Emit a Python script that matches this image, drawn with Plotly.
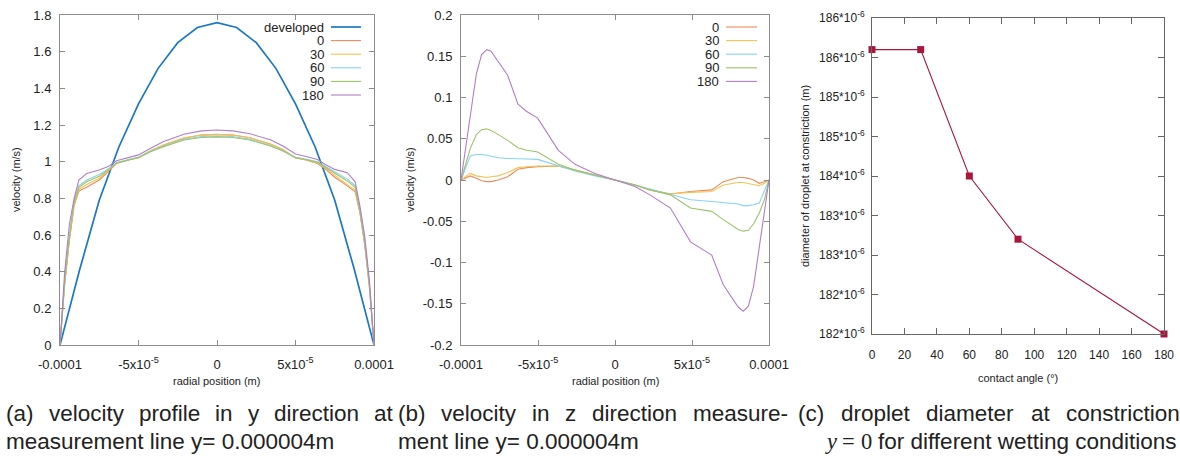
import plotly.graph_objects as go

W, H = 1180, 459

# ---------------- data ----------------
# panel (a): velocity in y direction, x in units of 1e-5 m
xa_dev = [-10, -8.75, -7.5, -6.25, -5, -3.75, -2.5, -1.25, 0, 1.25, 2.5, 3.75, 5, 6.25, 7.5, 8.75, 10]
va_dev = [0, 0.41, 0.79, 1.08, 1.315, 1.509, 1.649, 1.732, 1.758, 1.732, 1.649, 1.509, 1.315, 1.08, 0.79, 0.41, 0]

xa = [-10, -9.7, -9.4, -9.1, -8.8, -8.3, -7.5, -6.9, -6.4, -5.6, -5.0, -4.2, -3.4, -2.1, -1.0, 0,
      1.0, 2.1, 3.4, 4.2, 5.0, 5.6, 6.4, 6.9, 7.5, 8.3, 8.8, 9.1, 9.4, 9.7, 10]
va_0 = [0, 0.33, 0.57, 0.76, 0.84, 0.86, 0.90, 0.95, 0.99, 1.01, 1.022, 1.06, 1.09, 1.128, 1.145, 1.149,
        1.145, 1.13, 1.095, 1.065, 1.02, 1.01, 0.99, 0.96, 0.915, 0.868, 0.835, 0.72, 0.55, 0.32, 0]
va_30 = [0, 0.34, 0.58, 0.77, 0.85, 0.875, 0.91, 0.955, 0.992, 1.012, 1.024, 1.062, 1.092, 1.13, 1.145, 1.148,
         1.145, 1.13, 1.097, 1.067, 1.022, 1.012, 0.993, 0.965, 0.925, 0.875, 0.845, 0.73, 0.56, 0.33, 0]
va_60 = [0, 0.36, 0.60, 0.79, 0.87, 0.90, 0.93, 0.962, 0.995, 1.012, 1.024, 1.058, 1.085, 1.122, 1.137, 1.14,
         1.137, 1.122, 1.088, 1.06, 1.024, 1.015, 1.0, 0.975, 0.945, 0.905, 0.87, 0.74, 0.57, 0.34, 0]
va_90 = [0, 0.35, 0.59, 0.78, 0.86, 0.89, 0.92, 0.957, 0.993, 1.01, 1.022, 1.055, 1.082, 1.118, 1.132, 1.135,
         1.132, 1.118, 1.085, 1.058, 1.022, 1.013, 0.997, 0.97, 0.938, 0.895, 0.86, 0.735, 0.565, 0.335, 0]
va_180 = [0, 0.40, 0.66, 0.80, 0.90, 0.935, 0.955, 0.975, 1.005, 1.025, 1.037, 1.075, 1.11, 1.15, 1.168, 1.173,
          1.168, 1.152, 1.12, 1.085, 1.042, 1.03, 1.012, 0.985, 0.958, 0.94, 0.89, 0.76, 0.60, 0.36, 0]

# panel (b): velocity in z direction, x in units of 1e-5 m
xb = [-10, -9.4, -9.0, -8.66, -8.33, -8.05, -7.58, -6.97, -6.3, -5.73, -5.02, -3.68, -2.6, -1.3, 0,
      1.3, 2.27, 3.6, 4.9, 6.28, 7.03, 7.6, 8.0, 8.33, 8.66, 9.0, 9.37, 9.7, 10]
vb_0 = [0, 0.005, 0.002, -0.001, -0.002, -0.002, 0.0, 0.004, 0.013, 0.015, 0.016, 0.017, 0.012, 0.006, 0,
        -0.006, -0.012, -0.017, -0.014, -0.012, -0.002, 0.001, 0.003, 0.003, 0.002, 0.0, -0.004, -0.002, 0]
vb_30 = [0, 0.008, 0.005, 0.004, 0.003, 0.004, 0.005, 0.009, 0.015, 0.016, 0.017, 0.017, 0.012, 0.006, 0,
         -0.006, -0.012, -0.017, -0.015, -0.014, -0.006, -0.004, -0.003, -0.003, -0.004, -0.005, -0.007, -0.004, 0]
vb_60 = [0, 0.029, 0.031, 0.031, 0.030, 0.029, 0.027, 0.026, 0.026, 0.0255, 0.025, 0.017, 0.011, 0.005, 0,
         -0.006, -0.011, -0.017, -0.024, -0.026, -0.027, -0.028, -0.029, -0.031, -0.031, -0.030, -0.028, -0.013, 0]
vb_90 = [0, 0.038, 0.055, 0.061, 0.062, 0.060, 0.055, 0.048, 0.039, 0.036, 0.034, 0.019, 0.012, 0.006, 0,
         -0.006, -0.012, -0.018, -0.034, -0.038, -0.048, -0.055, -0.060, -0.062, -0.061, -0.053, -0.040, -0.024, 0]
vb_180 = [0, 0.076, 0.129, 0.152, 0.158, 0.156, 0.143, 0.127, 0.092, 0.083, 0.075, 0.036, 0.019, 0.008, 0,
          -0.008, -0.018, -0.034, -0.075, -0.091, -0.127, -0.143, -0.154, -0.159, -0.153, -0.129, -0.081, -0.040, 0]

# panel (c): droplet diameter vs contact angle
angle = [0, 30, 60, 90, 180]
diameter = [185.6e-6, 185.6e-6, 184.0e-6, 183.2e-6, 182.0e-6]

series_names = ["0", "30", "60", "90", "180"]
pos_ticks = [-1e-4, -5e-5, 0, 5e-5, 1e-4]
pos_text = ["-0.0001", "-5x10<sup>-5</sup>", "0", "5x10<sup>-5</sup>", "0.0001"]
va_ticks = [0, 0.2, 0.4, 0.6, 0.8, 1, 1.2, 1.4, 1.6, 1.8]
va_text = ["0", "0.2", "0.4", "0.6", "0.8", "1", "1.2", "1.4", "1.6", "1.8"]
vb_ticks = [-0.2, -0.15, -0.1, -0.05, 0, 0.05, 0.1, 0.15, 0.2]
vb_text = ["-0.2", "-0.15", "-0.1", "-0.05", "0", "0.05", "0.1", "0.15", "0.2"]
angle_ticks = [0, 20, 40, 60, 80, 100, 120, 140, 160, 180]
dia_ticks = [182e-6, 182.5e-6, 183e-6, 183.5e-6, 184e-6, 184.5e-6, 185e-6, 185.5e-6, 186e-6]
dia_labels = ["182", "182", "183", "183", "184", "185", "185", "186", "186"]

# ---------------- styling ----------------
C_DEV = "#1a78c2"
COLS = ["#ee8a5c", "#f3c451", "#86d3f2", "#9cc46a", "#b27ec9"]
C_C = "#a8163a"
FRAME = "#8c8c8c"
TXT = "#222222"
FONT = "Liberation Sans, Arial, sans-serif"
SER = "Liberation Serif, Times New Roman, serif"


def s(v):
    return [t * 1e-5 for t in v]


fig = go.Figure()

# panel (a)
fig.add_trace(go.Scatter(x=s(xa_dev), y=va_dev, mode="lines", line=dict(color=C_DEV, width=1.7),
                         xaxis="x", yaxis="y", showlegend=False, name="developed"))
for name, col, ys in zip(series_names, COLS, [va_0, va_30, va_60, va_90, va_180]):
    fig.add_trace(go.Scatter(x=s(xa), y=ys, mode="lines", line=dict(color=col, width=1.1),
                             xaxis="x", yaxis="y", showlegend=False, name=name))
# panel (b)
for name, col, ys in zip(series_names, COLS, [vb_0, vb_30, vb_60, vb_90, vb_180]):
    fig.add_trace(go.Scatter(x=s(xb), y=ys, mode="lines", line=dict(color=col, width=1.1),
                             xaxis="x2", yaxis="y2", showlegend=False, name=name))
# panel (c)
fig.add_trace(go.Scatter(x=angle, y=diameter, mode="lines+markers",
                         line=dict(color=C_C, width=1.1),
                         marker=dict(symbol="square", size=7, color=C_C),
                         xaxis="x3", yaxis="y3", showlegend=False, cliponaxis=False))


def px_x(p):
    return p / W


def px_y(p):
    return 1 - p / H


common = dict(showline=True, linecolor=FRAME, linewidth=1, mirror="ticks", ticks="inside",
              ticklen=5, tickcolor=FRAME, tickwidth=1, showgrid=False, zeroline=False,
              automargin=False, tickfont=dict(family=FONT, size=13, color=TXT))
common_c = {**common, "linecolor": "#666666", "tickcolor": "#666666", "ticklen": 6,
            "tickfont": dict(family=FONT, size=12, color=TXT)}

fig.update_layout(
    width=W, height=H, margin=dict(l=0, r=0, t=0, b=0, autoexpand=False),
    paper_bgcolor="white", plot_bgcolor="white",
    xaxis=dict(domain=[px_x(60), px_x(374)], range=[-1e-4, 1e-4], tickmode="array",
               tickvals=pos_ticks, ticktext=pos_text, anchor="y", ticklabelstandoff=7, **common),
    yaxis=dict(domain=[px_y(345), px_y(15)], range=[0, 1.8], tickmode="array",
               tickvals=va_ticks, ticktext=va_text, anchor="x", ticklabelstandoff=5, **common),
    xaxis2=dict(domain=[px_x(461), px_x(769)], range=[-1e-4, 1e-4], tickmode="array",
                tickvals=pos_ticks, ticktext=pos_text, anchor="y2", ticklabelstandoff=7, **common),
    yaxis2=dict(domain=[px_y(345), px_y(15)], range=[-0.2, 0.2], tickmode="array",
                tickvals=vb_ticks, ticktext=vb_text, anchor="x2", ticklabelstandoff=5, **common),
    xaxis3=dict(domain=[px_x(872), px_x(1164)], range=[0, 180], tickmode="array",
                tickvals=angle_ticks, ticktext=[str(a) for a in angle_ticks], anchor="y3",
                ticklabelstandoff=10, **common_c),
    yaxis3=dict(domain=[px_y(334), px_y(18)], range=[182e-6, 186e-6], tickmode="array",
                tickvals=dia_ticks, ticktext=[t + "*10<sup>-6</sup>" for t in dia_labels], anchor="x3",
                ticklabelstandoff=4, **common_c),
)

ann = []
shapes = []


def text(t, x, y, size=11, xanchor="center", yanchor="middle", angle=0, family=FONT, color=TXT):
    ann.append(dict(text=t, x=px_x(x), y=px_y(y), xref="paper", yref="paper", showarrow=False,
                    xanchor=xanchor, yanchor=yanchor, textangle=angle,
                    font=dict(family=family, size=size, color=color), borderpad=0))


# axis titles
text("radial position (m)", 217, 381)
text("velocity (m/s)", 16, 180, angle=-90)
text("radial position (m)", 615, 381)
text("velocity (m/s)", 410, 180, angle=-90)
text("contact angle (°)", 1018, 378)
text("diameter of droplet at constriction (m)", 805, 176, angle=-90)

# manual gnuplot-style keys (text right-aligned, sample on the right)
key_a = ["developed"] + series_names
key_a_cols = [C_DEV] + COLS
for i, (lab, col) in enumerate(zip(key_a, key_a_cols)):
    yy = 27 + i * 13.6
    text(lab, 325, yy, size=13, xanchor="right")
    shapes.append(dict(type="line", xref="paper", yref="paper", x0=px_x(331), x1=px_x(361),
                       y0=px_y(yy), y1=px_y(yy), line=dict(color=col, width=1.7 if i == 0 else 1.1)))
for i, (lab, col) in enumerate(zip(series_names, COLS)):
    yy = 27 + i * 13.6
    text(lab, 720, yy, size=13, xanchor="right")
    shapes.append(dict(type="line", xref="paper", yref="paper", x0=px_x(726), x1=px_x(757),
                       y0=px_y(yy), y1=px_y(yy), line=dict(color=col, width=1.1)))

# captions (justified first lines)
AW = {'(': 333, ')': 333, ' ': 278, '-': 333, '=': 584, '.': 278, 'a': 556, 'b': 556, 'c': 500, 'd': 556,
      'e': 556, 'f': 278, 'g': 556, 'h': 556, 'i': 222, 'j': 222, 'k': 500, 'l': 222, 'm': 833, 'n': 556,
      'o': 556, 'p': 556, 'q': 556, 'r': 333, 's': 500, 't': 278, 'u': 556, 'v': 500, 'w': 722, 'x': 500,
      'y': 500, 'z': 500}
CAP = 22.5


def tw(t, size=CAP):
    return sum(AW.get(c, 556) for c in t) * size / 1000


def justified(line, x0, x1, y):
    words = line.split(" ")
    tot = sum(tw(w) for w in words)
    gap = (x1 - x0 - tot) / (len(words) - 1)
    x = x0
    for w in words:
        text(w, x, y, size=CAP, xanchor="left")
        x += tw(w) + gap


L1, L2 = 413, 441
justified("(a) velocity profile in y direction at", 5, 392, L1)
text("measurement line y= 0.000004m", 5, L2, size=CAP, xanchor="left")
justified("(b) velocity in z direction measure-", 397, 787, L1)
text("ment line y= 0.000004m", 397, L2, size=CAP, xanchor="left")
justified("(c) droplet diameter at constriction", 797, 1179, L1)
rest = "for different wetting conditions"
right = 1176
start = right - tw(rest)
sp = 0.278 * CAP
x0 = start - sp - 0.5 * CAP
text("0", x0, L2, size=CAP, xanchor="left", family=SER)
x1 = x0 - sp - 0.564 * CAP
text("=", x1, L2, size=CAP, xanchor="left", family=SER)
x2 = x1 - sp - 0.444 * CAP
text("<i>y</i>", x2, L2, size=CAP, xanchor="left", family=SER)
text(rest, start, L2, size=CAP, xanchor="left")

fig.update_layout(annotations=ann, shapes=shapes)
fig.write_html("out.html", config={"displayModeBar": False},
               post_script="document.body.style.margin='0px';document.body.style.overflow='hidden';")
